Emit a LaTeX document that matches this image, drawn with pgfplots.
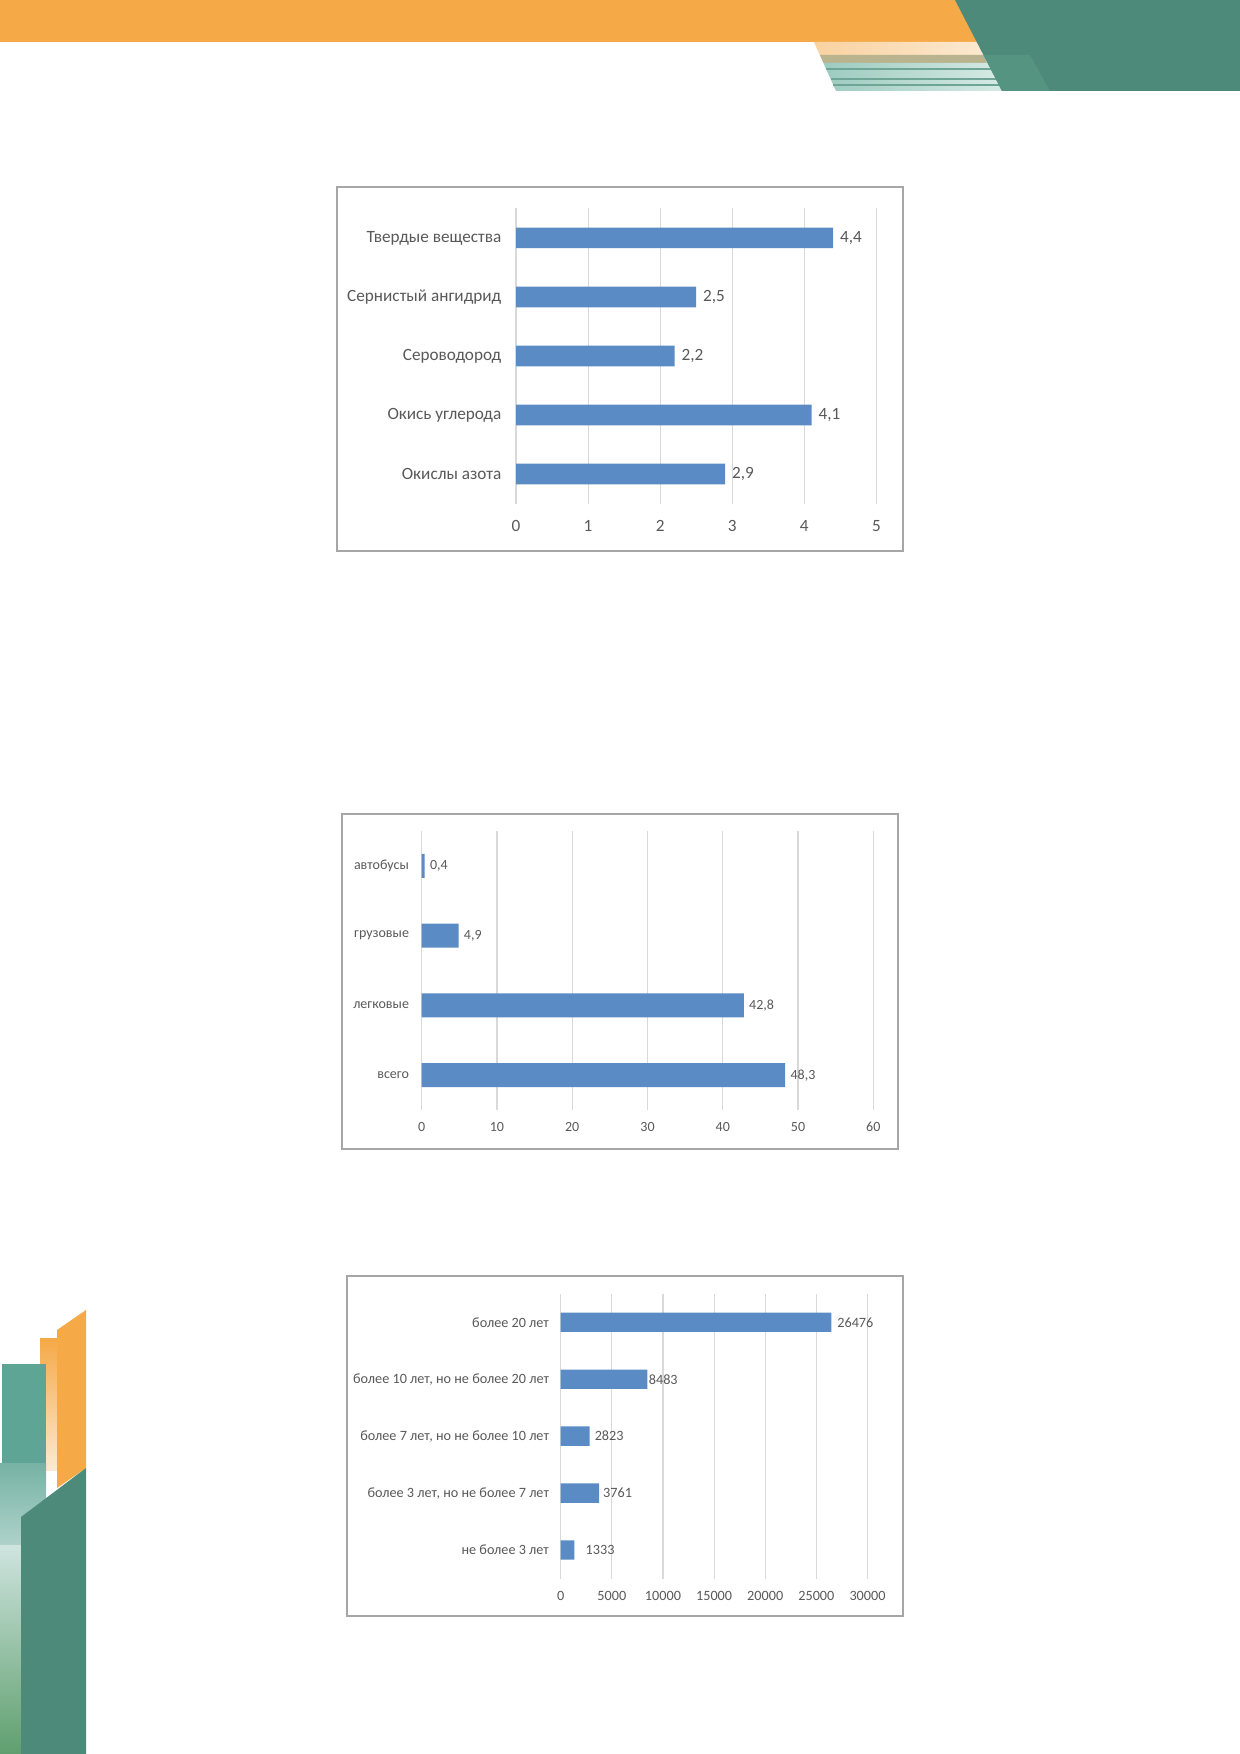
\documentclass[border=0pt]{standalone}
\usepackage{fontspec}
\setmainfont{Carlito}
\usepackage{pgfplots}
\pgfplotsset{compat=1.18}
\usepackage{pgfplotstable}
\definecolor{barblue}{HTML}{5B8BC5}
\definecolor{txt}{HTML}{595959}
\definecolor{gridc}{HTML}{D9D9D9}
\definecolor{boxc}{HTML}{A6A6A6}
\definecolor{orng}{HTML}{F5A947}
\definecolor{dgreen}{HTML}{4E8A7A}
\definecolor{teal1}{HTML}{5EA595}
\definecolor{lteal}{HTML}{9DCBBF}
\definecolor{llteal}{HTML}{D6EAE4}
\definecolor{ltorng}{HTML}{F9D2A0}

\pgfplotstableread{
i v
0 2.9
1 4.1
2 2.2
3 2.5
4 4.4
}\tabA
\pgfplotstableread{
i v
0 48.3
1 42.8
2 4.9
3 0.4
}\tabB
\pgfplotstableread{
i v off
0 1333 5.5
1 3761 1.8
2 2823 2.4
3 8483 0.5
4 26476 2.75
}\tabC

\pgfplotsset{
  hbar/.style={
    xbar, scale only axis, anchor=south west,
    xmin=0, ymin=-0.5,
    enlargelimits=false,
    axis line style={draw=none}, major tick style={draw=none},
    xmajorgrids, major grid style={gridc, line width=0.55pt},
    ytick=data,
    /pgf/number format/assume math mode=true,
    /pgf/number format/use comma,
    scaled x ticks=false,
    x tick label style={/pgf/number format/1000 sep={}},
    every tick label/.append style={text=txt},
    xticklabel style={anchor=center, inner sep=0pt},
    yticklabel style={anchor=east, inner sep=0pt},
    point meta=x,
    nodes near coords,
    nodes near coords align=horizontal,
    every node near coord/.append style={text=txt, anchor=west, inner sep=0pt},
  },
}

\begin{document}
\begin{tikzpicture}
\useasboundingbox (0,0) rectangle (620pt,-877pt);
\fill[white] (0,0) rectangle (620pt,-877pt);
\begin{scope}[x=0.5pt,y=-0.5pt]
  % top banner
  \fill[orng] (0,0) rectangle (980,42);
  \shade[left color=ltorng, right color=ltorng!50!white] (814,42) -- (976.7,42) -- (983.4,55) -- (819.8,55) -- cycle;
  \fill[color={rgb,255:red,185;green,180;blue,142}] (819.8,55) -- (983.4,55) -- (986.8,63) -- (823.4,63) -- cycle;
  \shade[left color=lteal, right color=llteal] (823.4,63) -- (986.8,63) -- (1002,91) -- (836,91) -- cycle;
  \draw[color={rgb,255:red,111;green,165;blue,151}, line width=1.2] (826,69) -- (990.6,69);
  \draw[color={rgb,255:red,111;green,165;blue,151}, line width=1.2] (830.6,79) -- (995.8,79);
  \draw[color={rgb,255:red,111;green,165;blue,151}, line width=1.2] (833.3,85) -- (998.9,85);
  \fill[dgreen] (955,0) -- (1240,0) -- (1240,91) -- (1002,91) -- cycle;
  \fill[color={rgb,255:red,86;green,148;blue,130}] (983.4,55) -- (1030,55) -- (1050,91) -- (1002,91) -- cycle;
  % bottom left
  \shade[top color=orng, bottom color=orng!25] (40,1338) rectangle (57,1470);
  \fill[orng] (57,1330) -- (86,1310) -- (86,1468) -- (57,1488) -- cycle;
  \fill[teal1] (2,1364) rectangle (46,1463);
  \shade[top color=teal1!85!white, bottom color=teal1!50!white] (0,1463) rectangle (46,1545);
  \shade[top color=teal1!30!white, bottom color={rgb,255:red,95;green,159;blue,110}] (0,1545) rectangle (21,1754);
  \fill[dgreen] (21,1517) -- (86,1468) -- (86,1754) -- (21,1754) -- cycle;
  % chart frames
  \filldraw[fill=white, draw=boxc, line width=1] (336.7,187.4) rectangle (902.7,551);
  \filldraw[fill=white, draw=boxc, line width=1] (342.3,814) rectangle (897.7,1149);
  \filldraw[fill=white, draw=boxc, line width=1] (347.3,1275.7) rectangle (902.7,1616);
\end{scope}

% Chart 1
\begin{axis}[hbar, at={(258pt,-251.75pt)}, width=180.2pt, height=147.55pt,
  xmax=5, ymax=4.5, bar width=0.35, xtick={0,1,2,3,4,5},
  yticklabels={Окислы азота, Окись углерода, Сероводород, Сернистый ангидрид, Твердые вещества},
  every tick label/.append style={font=\fontsize{8.6}{10}\selectfont},
  xticklabel style={yshift=-11.3pt},
  yticklabel style={xshift=-2.9pt},
  nodes near coords={\pgfmathprintnumber[fixed,fixed zerofill,precision=1]{\pgfplotspointmeta}},
  every node near coord/.append style={font=\fontsize{8.6}{10}\selectfont, xshift=3.3pt},
]
\addplot[fill=barblue, draw=none] table[x=v, y=i] {\tabA};
\end{axis}

% Chart 2
\begin{axis}[hbar, at={(210.85pt,-555pt)}, width=225.8pt, height=139.5pt,
  xmax=60, ymax=3.5, bar width=0.345, xtick={0,10,20,30,40,50,60},
  yticklabels={всего, легковые, грузовые, автобусы},
  every tick label/.append style={font=\fontsize{7}{8.5}\selectfont},
  xticklabel style={yshift=-8.4pt},
  yticklabel style={xshift=-1.9pt},
  nodes near coords={\pgfmathprintnumber[fixed,fixed zerofill,precision=1]{\pgfplotspointmeta}},
  every node near coord/.append style={font=\fontsize{7}{8.5}\selectfont, xshift=2.5pt},
]
\addplot[fill=barblue, draw=none] table[x=v, y=i] {\tabB};
\end{axis}

% Chart 3
\begin{axis}[hbar, at={(280.35pt,-789.25pt)}, width=153.4pt, height=142.35pt,
  xmax=30000, ymax=4.5, bar width=0.34, xtick={0,5000,10000,15000,20000,25000,30000},
  yticklabels={не более 3 лет, {более 3 лет, но не более 7 лет}, {более 7 лет, но не более 10 лет}, {более 10 лет, но не более 20 лет}, более 20 лет},
  every tick label/.append style={font=\fontsize{7.1}{8.5}\selectfont},
  xticklabel style={yshift=-8.95pt},
  yticklabel style={xshift=-1.4pt},
  visualization depends on={\thisrow{off}\as\lblshift},
  nodes near coords={\pgfmathprintnumber[fixed,precision=0,1000 sep={}]{\pgfplotspointmeta}},
  every node near coord/.append style={font=\fontsize{7.1}{8.5}\selectfont, xshift=\lblshift pt},
]
\addplot[fill=barblue, draw=none] table[x=v, y=i] {\tabC};
\end{axis}
\end{tikzpicture}
\end{document}
